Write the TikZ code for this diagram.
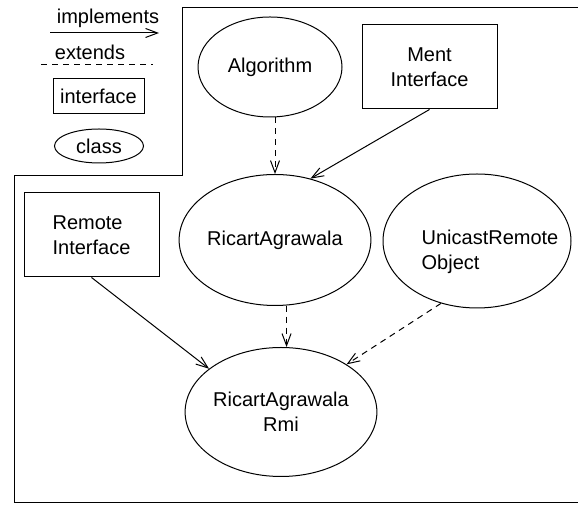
\documentclass[tikz,border=0pt]{standalone}
\usepackage{fontspec}
\setmainfont{Liberation Sans}
\usepackage{tikz}
\usetikzlibrary{arrows.meta,shapes.geometric}

\begin{document}
\begin{tikzpicture}[x=0.5pt,y=-0.5pt,line width=0.5pt,
  font=\fontsize{10}{12.5}\selectfont,
  >={Straight Barb[length=6pt,width=4.5pt]},
  cls/.style={draw,ellipse,inner sep=0pt,align=center},
  iface/.style={draw,rectangle,inner sep=0pt,align=center},
  impl/.style={->},
  ext/.style={->,dash pattern=on 3pt off 2.5pt}]
\useasboundingbox (0,0) rectangle (578,506);
% legend
\node (limpl) at (108,18) {implements};
\coordinate (li1) at (50,33);
\coordinate (li2) at (159,33);
\draw[impl] (li1) -- (li2);
\node (lext) at (90,52) {extends};
\coordinate (le1) at (41,65);
\coordinate (le2) at (153,65);
\draw[dash pattern=on 3pt off 2.5pt] (le1) -- (le2);
\node[iface,minimum width=45.5pt,minimum height=17.5pt] (liface) at (98.5,96.5) {interface};
\node[cls,minimum width=44.5pt,minimum height=17pt] (lcls) at (99,146) {class};
% frame
\draw (578,8) -- (182,8) -- (182,176) -- (14,176) -- (14,503) -- (578,503);
% classes and interfaces
\node[cls,minimum width=72pt,minimum height=50pt] (alg) at (270,67) {Algorithm};
\node[iface,minimum width=67.5pt,minimum height=42pt] (ment) at (429.5,67) {Ment\\Interface};
\node[cls,minimum width=93pt,minimum height=65.5pt] (ra) at (275,240) {RicartAgrawala};
\node[iface,minimum width=67.5pt,minimum height=42pt,align=left] (remote) at (91.5,235) {Remote\\Interface};
\node[cls,minimum width=94pt,minimum height=67pt] (uro) at (477,241) {};
\node[align=left,inner sep=0pt] (urotxt) at (490,252) {UnicastRemote\\Object};
\node[cls,minimum width=93pt,minimum height=64.5pt] (rmi) at (281,412) {RicartAgrawala\\Rmi};
% connectors
\draw[ext] (alg.south -| ra.north) -- (ra.north);
\draw[impl] (ment.south) -- (ra.60);
\draw[impl] (remote.south) -- (rmi.149);
\draw[ext] (ra.-80) -- (ra.-80 |- rmi.north);
\draw[ext] (uro.240) -- (rmi.36);
\end{tikzpicture}
\end{document}
